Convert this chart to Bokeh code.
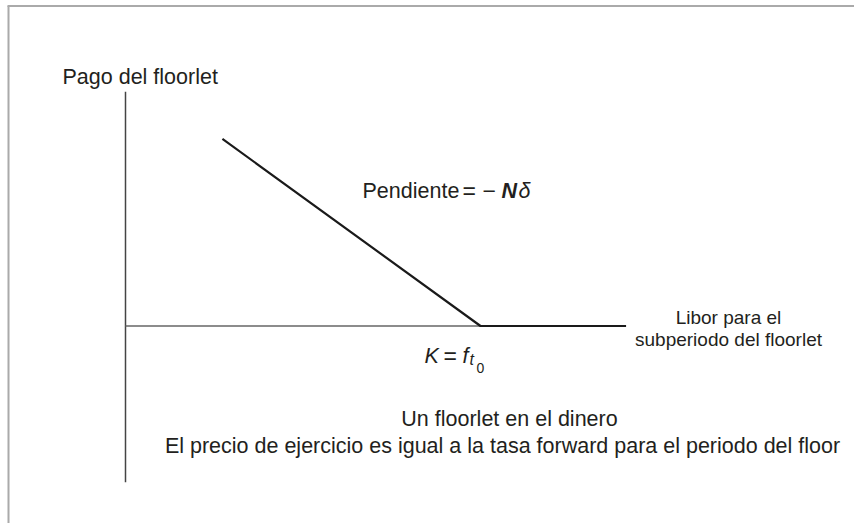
from bokeh.plotting import figure
from bokeh.models import Range1d, Label
from bokeh.embed import file_html
from bokeh.resources import INLINE

# ---- data (chart units: origin at axes crossing) ----
libor = [2.73, 10.0, 14.1]      # Libor for the floorlet subperiod
payoff = [5.27, 0.0, 0.0]       # floorlet payoff
strike = 10.0                   # K = f_t0
x_axis_span = [0.0, 14.1]
y_axis_span = [-4.4, 6.6]

# ---- layout helpers (page pixel -> chart units) ----
W, H = 854, 523
OX, OY, U = 125.0, 325.5, 35.5
def PX(px): return (px - OX) / U
def PY(py): return (OY - py) / U

p = figure(width=W, height=H, output_backend="svg", toolbar_location=None,
           x_range=Range1d(PX(0), PX(W)), y_range=Range1d(PY(H), PY(0)),
           min_border=0, min_border_left=0, min_border_right=0,
           min_border_top=0, min_border_bottom=0)
p.axis.visible = False
p.grid.visible = False
p.outline_line_color = None
p.background_fill_color = "white"
p.border_fill_color = "white"

# frame (top & left)
p.line([PX(7), PX(W)], [PY(5.5), PY(5.5)], line_color="#aaaaaa", line_width=2)
p.line([PX(8), PX(8)], [PY(5.5), PY(H)], line_color="#aaaaaa", line_width=2)

# axes
p.line([0, 0], y_axis_span, line_color="#444444", line_width=1.5)
p.line(x_axis_span, [0, 0], line_color="#666666", line_width=1.5)

# payoff
p.line(libor, payoff, line_color="#1a1a1a", line_width=2.2)

C = "#231f20"
F = "Liberation Sans"
def lab(txt, px, py, size, align="left", style="normal"):
    p.add_layout(Label(x=PX(px), y=PY(py), text=txt, text_font=F,
                       text_font_size=f"{size}px", text_color=C,
                       text_align=align, text_baseline="alphabetic",
                       text_font_style=style))

lab("Pago del floorlet", 62, 76, 21.5)
lab("Pendiente", 362, 190, 21.5)
lab("=", 462, 190, 23)
lab("\u2212", 482, 190, 23)
lab("N", 501, 190, 21.5, style="bold italic")
lab("\u03b4", 518, 190, 21.5, style="italic")

lab("K", 424, 355, 21.5, style="italic")
lab("=", 443, 355, 23)
lab("f", 462, 355, 21.5, style="italic")
lab("t", 469, 359, 16, style="italic")
lab("0", 476, 367, 14)

lab("Libor para el", 728, 317, 19, align="center")
lab("subperiodo del floorlet", 728, 339, 19, align="center")

lab("Un floorlet en el dinero", 509, 418, 21.5, align="center")
lab("El precio de ejercicio es igual a la tasa forward para el periodo del floor",
    502, 445, 21.5, align="center")

open("out.html", "w").write(file_html(p, INLINE))
